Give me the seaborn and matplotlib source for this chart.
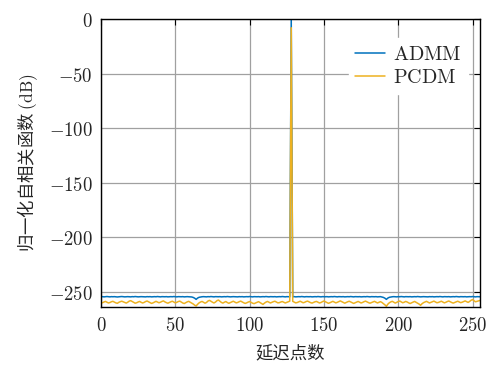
import numpy as np
import pandas as pd
import matplotlib
matplotlib.use("Agg")
import matplotlib.pyplot as plt
from matplotlib.ticker import FuncFormatter
import seaborn as sns

# Normalized autocorrelation (dB) versus lag, lags 0..255
lags = list(range(256))

admm_db = [
    -254.6, -254.5, -254.7, -254.6, -254.4, -254.6, -254.7, -254.5, -254.6, -254.5, -254.6, -254.8, -254.6, -254.5, -254.4, -254.6,
    -254.7, -254.6, -254.5, -254.6, -254.7, -254.5, -254.6, -254.4, -254.6, -254.7, -254.6, -254.5, -254.6, -254.6, -254.7, -254.5,
    -254.6, -254.5, -254.7, -254.6, -254.5, -254.6, -254.4, -254.6, -254.7, -254.5, -254.6, -254.6, -254.5, -254.7, -254.6, -254.5,
    -254.6, -254.4, -254.6, -254.7, -254.5, -254.6, -254.6, -254.5, -254.7, -254.6, -254.5, -254.6, -254.7, -254.8, -255.2, -255.9,
    -257.0, -255.8, -255.1, -254.8, -254.6, -254.5, -254.6, -254.7, -254.5, -254.6, -254.4, -254.6, -254.7, -254.5, -254.6, -254.6,
    -254.5, -254.7, -254.6, -254.5, -254.6, -254.4, -254.6, -254.7, -254.6, -254.5, -254.6, -254.6, -254.7, -254.5, -254.6, -254.5,
    -254.7, -254.6, -254.5, -254.6, -254.4, -254.6, -254.7, -254.5, -254.6, -254.6, -254.5, -254.7, -254.6, -254.5, -254.6, -254.4,
    -254.6, -254.7, -254.5, -254.6, -254.6, -254.5, -254.7, -254.6, -254.5, -254.6, -254.4, -254.6, -254.7, -254.5, -254.6, -254.6,
    0.0, -254.6, -254.5, -254.7, -254.6, -254.5, -254.6, -254.4, -254.6, -254.7, -254.5, -254.6, -254.6, -254.5, -254.7, -254.6,
    -254.5, -254.6, -254.4, -254.6, -254.7, -254.5, -254.6, -254.6, -254.5, -254.7, -254.6, -254.5, -254.6, -254.4, -254.6, -254.7,
    -254.5, -254.6, -254.6, -254.5, -254.7, -254.6, -254.5, -254.6, -254.4, -254.6, -254.7, -254.5, -254.6, -254.6, -254.5, -254.7,
    -254.6, -254.5, -254.6, -254.4, -254.6, -254.7, -254.5, -254.6, -254.6, -254.5, -254.7, -254.6, -254.5, -254.8, -255.2, -255.9,
    -257.0, -255.8, -255.1, -254.8, -254.6, -254.5, -254.6, -254.7, -254.5, -254.6, -254.4, -254.6, -254.7, -254.5, -254.6, -254.6,
    -254.5, -254.7, -254.6, -254.5, -254.6, -254.4, -254.6, -254.7, -254.6, -254.5, -254.6, -254.6, -254.7, -254.5, -254.6, -254.5,
    -254.7, -254.6, -254.5, -254.6, -254.4, -254.6, -254.7, -254.5, -254.6, -254.6, -254.5, -254.7, -254.6, -254.5, -254.6, -254.4,
    -254.6, -254.7, -254.5, -254.6, -254.6, -254.5, -254.7, -254.6, -254.5, -254.6, -254.4, -254.6, -254.7, -254.5, -254.6, -254.6,
]

pcdm_db = [
    -259.8, -260.1, -259.4, -258.9, -259.6, -260.3, -259.9, -259.2, -258.8, -259.5, -260.2, -260.6, -259.7, -259.1, -258.7, -259.3,
    -259.9, -260.4, -259.6, -258.6, -258.2, -259.0, -259.8, -260.5, -260.1, -259.4, -258.9, -259.7, -260.3, -259.8, -259.0, -258.5,
    -259.2, -260.0, -260.7, -260.2, -259.5, -258.8, -259.4, -260.1, -259.6, -258.9, -258.4, -259.3, -260.0, -260.5, -259.8, -259.2,
    -258.7, -259.5, -260.2, -259.7, -259.0, -258.6, -259.4, -260.3, -260.8, -260.0, -259.3, -258.8, -259.6, -260.4, -261.2, -262.3,
    -263.0, -261.5, -260.2, -259.4, -258.9, -259.7, -260.5, -259.8, -258.5, -257.9, -258.8, -259.6, -260.3, -259.5, -258.2, -257.6,
    -258.7, -259.8, -260.4, -259.6, -259.0, -259.9, -260.6, -260.0, -259.3, -258.7, -259.5, -260.2, -259.8, -259.1, -258.6, -259.4,
    -260.1, -260.7, -260.2, -259.5, -259.0, -259.8, -260.5, -260.9, -260.3, -259.6, -259.1, -259.9, -260.8, -261.6, -260.4, -259.5,
    -258.9, -259.6, -260.3, -259.7, -259.1, -258.7, -259.5, -260.2, -260.0, -259.4, -259.0, -259.7, -260.3, -259.8, -259.2, -258.6,
    -8.0, -258.8, -259.5, -260.2, -259.9, -259.3, -258.7, -259.4, -260.1, -259.7, -259.0, -258.6, -259.3, -260.0, -260.4, -259.8,
    -259.2, -258.9, -259.6, -260.3, -259.9, -259.1, -258.5, -259.2, -260.0, -260.6, -260.1, -259.4, -258.8, -259.5, -260.2, -259.7,
    -259.0, -258.4, -259.1, -259.9, -260.5, -259.8, -259.2, -258.7, -259.4, -260.2, -260.7, -260.1, -259.5, -258.9, -259.6, -260.3,
    -259.8, -259.1, -258.6, -259.3, -260.0, -260.5, -259.9, -259.2, -258.8, -259.5, -260.3, -259.7, -259.1, -259.8, -260.9, -262.0,
    -263.3, -261.4, -260.1, -259.3, -258.8, -259.6, -260.4, -259.7, -259.0, -258.5, -259.3, -260.1, -259.6, -258.9, -259.4, -260.2,
    -260.8, -260.1, -259.5, -258.9, -259.7, -260.4, -261.3, -262.4, -261.0, -260.0, -259.4, -258.8, -259.6, -260.3, -259.7, -259.1,
    -258.6, -259.4, -260.1, -259.8, -259.2, -258.7, -259.5, -260.2, -259.7, -259.0, -258.5, -259.2, -259.9, -260.4, -259.8, -259.1,
    -258.7, -259.4, -260.0, -259.6, -259.0, -258.4, -259.1, -259.8, -258.9, -257.8, -257.2, -258.3, -259.2, -258.8, -258.3, -258.0,
]

methods = ["ADMM", "PCDM"]
colors = ["#0072BD", "#EDB120"]

x_ticks = [0, 50, 100, 150, 200, 250]
y_ticks = [0, -50, -100, -150, -200, -250]

df = pd.concat([
    pd.DataFrame({"lag": lags, "db": admm_db, "method": methods[0]}),
    pd.DataFrame({"lag": lags, "db": pcdm_db, "method": methods[1]}),
])

sns.set_style("whitegrid")
plt.rcParams["font.family"] = ["Noto Sans CJK SC", "DejaVu Sans"]
plt.rcParams["mathtext.fontset"] = "cm"

fig = plt.figure(figsize=(4.91, 3.72), dpi=100)
ax = fig.add_axes([0.2057, 0.1747, 0.7719, 0.7742])

sns.lineplot(data=df, x="lag", y="db", hue="method", palette=colors,
             linewidth=1.1, ax=ax, estimator=None, sort=False)

ax.set_xlim(0, 255)
ax.set_ylim(-264, 0)
ax.set_xticks(x_ticks)
ax.set_yticks(y_ticks)
fmt = FuncFormatter(lambda v, p: r"$%d$" % v)
ax.xaxis.set_major_formatter(fmt)
ax.yaxis.set_major_formatter(fmt)
ax.tick_params(direction="in", length=4, width=0.8, color="black",
               top=True, right=True, labelsize=13.5, pad=6)

ax.grid(True, color="#a0a0a0", linewidth=0.9)
for s in ax.spines.values():
    s.set_color("black")
    s.set_linewidth(1.0)

ax.set_xlabel("延迟点数", fontsize=12.5, labelpad=6)
ax.set_ylabel(r"归一化自相关函数 $\mathrm{(dB)}$", fontsize=12.5, labelpad=6)

handles, _ = ax.get_legend_handles_labels()
leg = ax.legend(handles, [r"$\mathrm{%s}$" % m for m in methods],
                loc="upper right", bbox_to_anchor=(0.995, 0.97),
                fontsize=14.5, frameon=True, handlelength=1.5,
                handletextpad=0.4, borderpad=0.3, labelspacing=0.1,
                fancybox=False)
leg.get_frame().set_facecolor("white")
leg.get_frame().set_edgecolor("white")
leg.get_frame().set_alpha(1.0)

fig.savefig("out.png", dpi=100)
